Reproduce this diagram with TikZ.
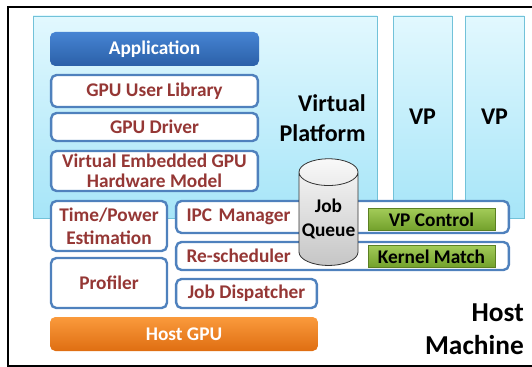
\documentclass[tikz,border=0pt]{standalone}
\usepackage{fontspec}
\setmainfont{Carlito}
\usetikzlibrary{shapes.geometric}
\definecolor{txtred}{HTML}{953735}
\definecolor{edgeblue}{HTML}{4F81BD}
\definecolor{vptop}{HTML}{E2F8FE}
\definecolor{vpbot}{HTML}{A6E5F8}
\definecolor{vpedge}{HTML}{72C2D9}
\definecolor{apptop}{HTML}{4684D3}
\definecolor{appbot}{HTML}{2B60A8}
\definecolor{gputop}{HTML}{FA9A3C}
\definecolor{gpubot}{HTML}{DF6E12}
\definecolor{grntop}{HTML}{A2CB58}
\definecolor{grnbot}{HTML}{72A02B}

\begin{document}
\begin{tikzpicture}
[x=0.75pt,y=-0.75pt,
 vp/.style={rectangle,draw=vpedge,top color=vptop,bottom color=vpbot,inner sep=0pt,
   font=\fontsize{18}{22.5}\selectfont\bfseries},
 layer/.style={rectangle,rounded corners=4pt,draw=edgeblue,line width=1.8pt,fill=white,
   text=txtred,font=\fontsize{14.5}{16}\selectfont\bfseries,align=center,inner sep=0pt},
 solid/.style={rectangle,rounded corners=4pt,text=white,
   font=\fontsize{14.5}{16}\selectfont\bfseries,inner sep=0pt},
 tag/.style={rectangle,draw=grnbot!80!black,line width=0.3pt,top color=grntop,bottom color=grnbot,
   font=\fontsize{14.5}{16}\selectfont\bfseries,inner sep=0pt,minimum width=95pt,minimum height=16.5pt},
 big/.style={font=\fontsize{18}{22.5}\selectfont\bfseries,align=right,inner sep=0pt}]
\useasboundingbox (0,0) rectangle (532,367);
\draw[line width=1.5pt] (533,7) -- (8,7) -- (8,366) -- (533,366);
% virtual platforms
\node[vp,minimum width=44.25pt,minimum height=151.5pt] at (422.5,117) (vp1) {VP};
\node[vp,minimum width=44.25pt,minimum height=151.5pt] at (494.5,117) (vp2) {VP};
\node[vp,minimum width=258pt,minimum height=151.5pt] at (205,117) (vp0) {};
\node[big,anchor=east] at (366,118) (vpname) {Virtual\\Platform};
% guest stack
\node[solid,top color=apptop,bottom color=appbot,minimum width=156.75pt,minimum height=25.5pt] at (154.5,49) (app) {Application};
\node[layer,minimum width=155pt,minimum height=24pt] at (154.5,91) (lib) {GPU User Library};
\node[layer,minimum width=155pt,minimum height=21pt] at (154.5,127) (drv) {GPU Driver};
\node[layer,minimum width=155pt,minimum height=30pt,font=\fontsize{14.5}{15}\selectfont\bfseries] at (154.5,171) (hw) {Virtual Embedded GPU\\Hardware Model};
% host side
\node[layer,minimum width=87pt,minimum height=37.5pt,font=\fontsize{14.5}{17}\selectfont\bfseries] at (109,226) (est) {Time/Power\\Estimation};
\node[layer,minimum width=87pt,minimum height=37.5pt] at (109,283) (prof) {Profiler};
\node[layer,minimum width=249.5pt,minimum height=24pt,text width=234pt,align=left] at (342.5,217) (ipc) {IPC Manager};
\node[layer,minimum width=249.5pt,minimum height=21pt,text width=234pt,align=left] at (342.5,256) (resched) {Re-scheduler};
\node[layer,minimum width=105.5pt,minimum height=21.75pt] at (246.5,293.5) (disp) {Job Dispatcher};
\node[solid,top color=gputop,bottom color=gpubot,minimum width=201pt,minimum height=25.5pt] at (184,334) (gpu) {Host GPU};
\node[tag] at (431.5,219.5) (ctrl) {VP Control};
\node[tag] at (431.5,256.5) (match) {Kernel Match};
\node[cylinder,shape border rotate=90,aspect=0.5,draw=black!80,line width=0.6pt,
  top color=gray!5,bottom color=gray!45,minimum width=44.25pt,minimum height=80pt,
  inner sep=0pt,align=center,font=\fontsize{14.5}{18}\selectfont\bfseries] at (328.5,219) (jq) {Job\\Queue};
\node[big,anchor=east,font=\fontsize{20.5}{24.75}\selectfont\bfseries] at (524,329) (host) {Host\\Machine};
\end{tikzpicture}
\end{document}
